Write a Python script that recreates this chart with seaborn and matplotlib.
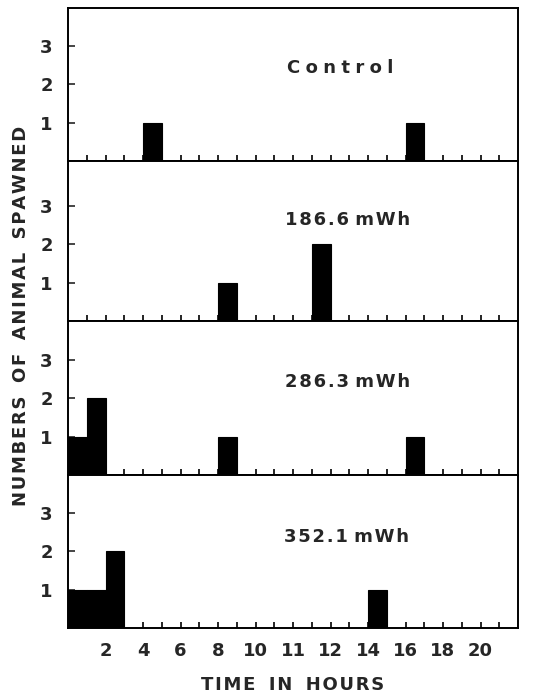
import matplotlib
matplotlib.use("Agg")
import matplotlib.pyplot as plt
import seaborn as sns
import pandas as pd
from matplotlib.ticker import FixedLocator, NullFormatter

# ---- data (bar start position in hourly bins, number spawned) ----
panel_labels = ["Control", "186.6 mWh", "286.3 mWh", "352.1 mWh"]
control_hours = [4, 18]
control_counts = [1, 1]
mwh186_hours = [8, 13]
mwh186_counts = [1, 2]
mwh286_hours = [0, 1, 8, 18]
mwh286_counts = [1, 2, 1, 1]
mwh352_hours = [0, 1, 2, 16]
mwh352_counts = [1, 1, 2, 1]
x_tick_positions = [2, 4, 6, 8, 10, 12, 14, 16, 18, 20, 22]
x_tick_labels = ["2", "4", "6", "8", "10", "11", "12", "14", "16", "18", "20"]
y_ticks = [1, 2, 3]
y_tick_labels = ["1", "2", "3"]

series = [(control_hours, control_counts), (mwh186_hours, mwh186_counts),
          (mwh286_hours, mwh286_counts), (mwh352_hours, mwh352_counts)]

sns.set_style("ticks")
plt.rcParams["font.family"] = ["DejaVu Sans"]

W, H = 537, 695
fig = plt.figure(figsize=(W / 100, H / 100), dpi=100)
left_px, right_px = 68, 518
bounds = [8, 161, 321, 475, 628]
unit_px = 38.3


def spaced(s, sep="\u2009", wsep=" "):
    return wsep.join(sep.join(list(w)) for w in s.split(" "))


label_x = [14.5, 14.9, 14.9, 14.85]
label_y = [2.42, 2.64, 2.43, 2.38]
label_sep = ["\u2009\u200a", "\u200a", "\u200a", "\u200a"]

for i, ((hrs, cnt), lab) in enumerate(zip(series, panel_labels)):
    top, bot = bounds[i], bounds[i + 1]
    ax = fig.add_axes([left_px / W, 1 - bot / H, (right_px - left_px) / W, (bot - top) / H])
    df = pd.DataFrame({"hour": hrs, "count": cnt})
    sns.histplot(data=df, x="hour", weights="count", bins=list(range(0, 25)),
                 color="black", alpha=1, edgecolor="black", linewidth=0.8, ax=ax)
    ax.set_xlim(0, 24)
    ax.set_ylim(0, (bot - top) / unit_px)
    ax.set_xlabel("")
    ax.set_ylabel("")
    for s in ax.spines.values():
        s.set_visible(True)
        s.set_linewidth(1.4)
        s.set_color("black")
    ax.xaxis.set_major_locator(FixedLocator(x_tick_positions))
    ax.xaxis.set_minor_locator(FixedLocator([k for k in range(1, 24) if k not in x_tick_positions]))
    ax.tick_params(axis="x", which="both", direction="in", length=4, width=1.2, color="black",
                   bottom=True, top=False)
    if i == 3:
        ax.set_xticklabels(x_tick_labels, fontsize=13, fontweight="bold")
        ax.tick_params(axis="x", pad=10)
    else:
        ax.xaxis.set_major_formatter(NullFormatter())
    ax.set_yticks(y_ticks)
    ax.set_yticklabels(y_tick_labels, fontsize=13, fontweight="bold")
    ax.tick_params(axis="y", direction="in", length=5, width=1.2, pad=11, left=True, right=False)
    ax.text(label_x[i], label_y[i], spaced(lab, label_sep[i]), ha="center", va="center",
            fontsize=13, fontweight="bold")

wgap = "\u2009 \u2009"
fig.text(21.5 / W, 1 - 316 / H, spaced("NUMBERS OF ANIMAL SPAWNED", "\u200a", wgap), rotation=90,
         ha="center", va="center", fontsize=13, fontweight="bold")
fig.text(293 / W, 1 - 685 / H, spaced("TIME IN HOURS", "\u200a", wgap), ha="center", va="center",
         fontsize=13, fontweight="bold")

fig.savefig("out.png", dpi=100)
